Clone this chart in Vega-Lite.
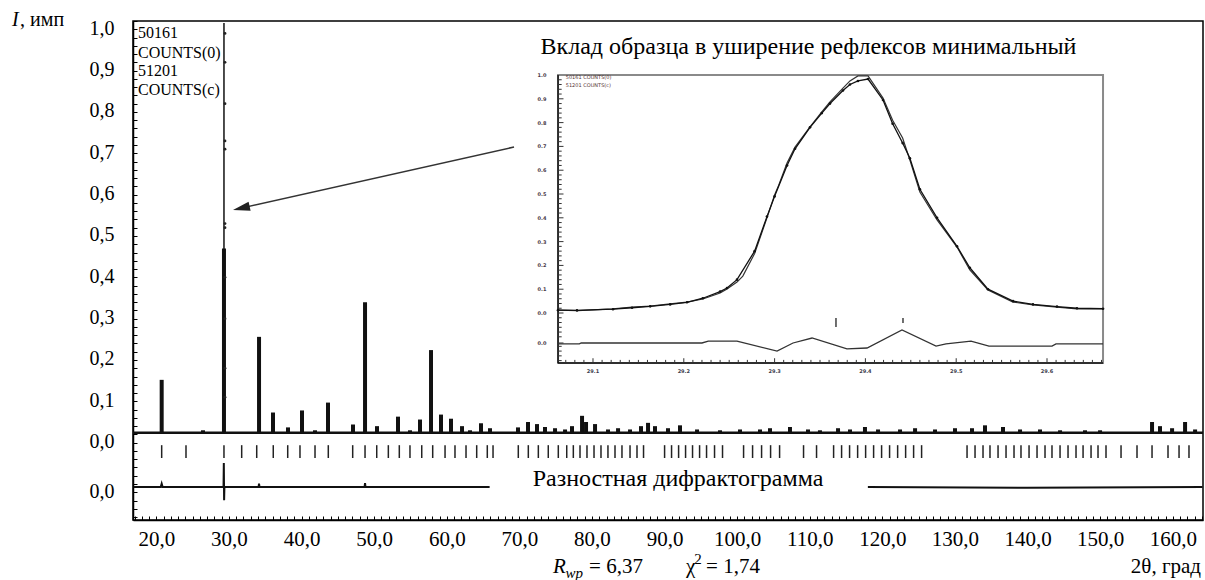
{
 "$schema": "https://vega.github.io/schema/vega-lite/v6.json",
 "width": 1070,
 "height": 499,
 "autosize": {"type": "none"},
 "padding": {"left": 133, "top": 21, "right": 2, "bottom": 60},
 "background": "#ffffff",
 "config": {"view": {"stroke": "#000000", "strokeWidth": 1.5}, "font": "Liberation Serif"},
 "datasets": {
  "base": [{"x": 16.78, "x2": 164.16, "y": 0.004}],
  "peaks": [
   {"x": 20.73, "y": 0.132}, {"x": 26.42, "y": 0.01}, {"x": 29.31, "y": 0.45}, {"x": 34.14, "y": 0.236}, {"x": 36.06, "y": 0.053},
   {"x": 38.13, "y": 0.017}, {"x": 40.06, "y": 0.058}, {"x": 41.85, "y": 0.01}, {"x": 43.64, "y": 0.077}, {"x": 47.08, "y": 0.024},
   {"x": 48.74, "y": 0.32}, {"x": 50.39, "y": 0.02}, {"x": 53.28, "y": 0.043}, {"x": 54.93, "y": 0.01}, {"x": 56.31, "y": 0.036},
   {"x": 57.83, "y": 0.204}, {"x": 59.2, "y": 0.048}, {"x": 60.58, "y": 0.038}, {"x": 62.1, "y": 0.02}, {"x": 63.2, "y": 0.01},
   {"x": 64.71, "y": 0.027}, {"x": 65.95, "y": 0.015}, {"x": 69.81, "y": 0.017}, {"x": 71.19, "y": 0.03}, {"x": 72.43, "y": 0.025},
   {"x": 73.53, "y": 0.018}, {"x": 74.91, "y": 0.015}, {"x": 76.29, "y": 0.012}, {"x": 77.25, "y": 0.02}, {"x": 78.63, "y": 0.045},
   {"x": 79.18, "y": 0.03}, {"x": 80.42, "y": 0.025}, {"x": 82.21, "y": 0.012}, {"x": 83.59, "y": 0.015}, {"x": 85.24, "y": 0.012},
   {"x": 86.75, "y": 0.02}, {"x": 87.72, "y": 0.028}, {"x": 88.68, "y": 0.02}, {"x": 90.47, "y": 0.015}, {"x": 92.12, "y": 0.022},
   {"x": 94.47, "y": 0.012}, {"x": 97.63, "y": 0.01}, {"x": 100.39, "y": 0.012}, {"x": 103.14, "y": 0.012}, {"x": 104.52, "y": 0.015},
   {"x": 107.27, "y": 0.018}, {"x": 109.75, "y": 0.012}, {"x": 111.4, "y": 0.01}, {"x": 113.89, "y": 0.015}, {"x": 115.54, "y": 0.012},
   {"x": 117.6, "y": 0.018}, {"x": 119.4, "y": 0.012}, {"x": 122.43, "y": 0.012}, {"x": 124.5, "y": 0.015}, {"x": 127.25, "y": 0.012},
   {"x": 130.0, "y": 0.015}, {"x": 132.34, "y": 0.015}, {"x": 134.13, "y": 0.022}, {"x": 136.61, "y": 0.018}, {"x": 138.96, "y": 0.012},
   {"x": 141.71, "y": 0.012}, {"x": 144.47, "y": 0.01}, {"x": 147.91, "y": 0.01}, {"x": 149.98, "y": 0.01}, {"x": 157.14, "y": 0.03},
   {"x": 158.24, "y": 0.02}, {"x": 159.9, "y": 0.015}, {"x": 161.69, "y": 0.03}, {"x": 163.07, "y": 0.012}
  ],
  "mainpeak": [{"x": 29.31, "y": 0.995}],
  "dots": [
   {"x": 29.45, "y": 0.97}, {"x": 29.45, "y": 0.9}, {"x": 29.45, "y": 0.8}, {"x": 29.45, "y": 0.71}, {"x": 29.45, "y": 0.69},
   {"x": 29.45, "y": 0.51}, {"x": 29.45, "y": 0.5}, {"x": 29.45, "y": 0.38}, {"x": 29.45, "y": 0.28}, {"x": 29.45, "y": 0.16}, {"x": 29.45, "y": 0.09}
  ],
  "bragg": [
   {"x": 20.73, "y": -0.026, "y2": -0.057}, {"x": 24.08, "y": -0.026, "y2": -0.057}, {"x": 29.31, "y": -0.026, "y2": -0.057}, {"x": 31.75, "y": -0.026, "y2": -0.057},
   {"x": 33.82, "y": -0.026, "y2": -0.057}, {"x": 36.1, "y": -0.026, "y2": -0.057}, {"x": 38.09, "y": -0.026, "y2": -0.057}, {"x": 39.78, "y": -0.026, "y2": -0.057},
   {"x": 41.85, "y": -0.026, "y2": -0.057}, {"x": 43.68, "y": -0.026, "y2": -0.057}, {"x": 47.04, "y": -0.026, "y2": -0.057}, {"x": 48.74, "y": -0.026, "y2": -0.057},
   {"x": 50.35, "y": -0.026, "y2": -0.057}, {"x": 51.95, "y": -0.026, "y2": -0.057}, {"x": 53.46, "y": -0.026, "y2": -0.057}, {"x": 54.93, "y": -0.026, "y2": -0.057},
   {"x": 56.55, "y": -0.026, "y2": -0.057}, {"x": 58.06, "y": -0.026, "y2": -0.057}, {"x": 59.76, "y": -0.026, "y2": -0.057}, {"x": 61.13, "y": -0.026, "y2": -0.057},
   {"x": 62.65, "y": -0.026, "y2": -0.057}, {"x": 64.12, "y": -0.026, "y2": -0.057}, {"x": 65.58, "y": -0.026, "y2": -0.057}, {"x": 66.37, "y": -0.026, "y2": -0.057},
   {"x": 69.85, "y": -0.026, "y2": -0.057}, {"x": 71.23, "y": -0.026, "y2": -0.057}, {"x": 72.61, "y": -0.026, "y2": -0.057}, {"x": 73.98, "y": -0.026, "y2": -0.057},
   {"x": 75.36, "y": -0.026, "y2": -0.057}, {"x": 76.52, "y": -0.026, "y2": -0.057}, {"x": 77.43, "y": -0.026, "y2": -0.057}, {"x": 78.35, "y": -0.026, "y2": -0.057},
   {"x": 79.31, "y": -0.026, "y2": -0.057}, {"x": 80.28, "y": -0.026, "y2": -0.057}, {"x": 81.24, "y": -0.026, "y2": -0.057}, {"x": 82.2, "y": -0.026, "y2": -0.057},
   {"x": 83.17, "y": -0.026, "y2": -0.057}, {"x": 84.13, "y": -0.026, "y2": -0.057}, {"x": 85.24, "y": -0.026, "y2": -0.057}, {"x": 86.2, "y": -0.026, "y2": -0.057},
   {"x": 87.1, "y": -0.026, "y2": -0.057}, {"x": 90.0, "y": -0.026, "y2": -0.057}, {"x": 90.96, "y": -0.026, "y2": -0.057}, {"x": 91.93, "y": -0.026, "y2": -0.057},
   {"x": 92.89, "y": -0.026, "y2": -0.057}, {"x": 93.85, "y": -0.026, "y2": -0.057}, {"x": 94.82, "y": -0.026, "y2": -0.057}, {"x": 95.78, "y": -0.026, "y2": -0.057},
   {"x": 96.88, "y": -0.026, "y2": -0.057}, {"x": 97.98, "y": -0.026, "y2": -0.057}, {"x": 100.88, "y": -0.026, "y2": -0.057}, {"x": 102.12, "y": -0.026, "y2": -0.057},
   {"x": 103.36, "y": -0.026, "y2": -0.057}, {"x": 104.6, "y": -0.026, "y2": -0.057}, {"x": 105.84, "y": -0.026, "y2": -0.057}, {"x": 109.14, "y": -0.026, "y2": -0.057},
   {"x": 110.93, "y": -0.026, "y2": -0.057}, {"x": 113.28, "y": -0.026, "y2": -0.057}, {"x": 114.38, "y": -0.026, "y2": -0.057}, {"x": 115.48, "y": -0.026, "y2": -0.057},
   {"x": 116.59, "y": -0.026, "y2": -0.057}, {"x": 117.69, "y": -0.026, "y2": -0.057}, {"x": 118.79, "y": -0.026, "y2": -0.057}, {"x": 119.89, "y": -0.026, "y2": -0.057},
   {"x": 120.99, "y": -0.026, "y2": -0.057}, {"x": 122.1, "y": -0.026, "y2": -0.057}, {"x": 123.2, "y": -0.026, "y2": -0.057}, {"x": 124.3, "y": -0.026, "y2": -0.057},
   {"x": 125.4, "y": -0.026, "y2": -0.057}, {"x": 131.66, "y": -0.026, "y2": -0.057}, {"x": 132.76, "y": -0.026, "y2": -0.057}, {"x": 133.86, "y": -0.026, "y2": -0.057},
   {"x": 134.82, "y": -0.026, "y2": -0.057}, {"x": 135.93, "y": -0.026, "y2": -0.057}, {"x": 137.03, "y": -0.026, "y2": -0.057}, {"x": 138.13, "y": -0.026, "y2": -0.057},
   {"x": 139.09, "y": -0.026, "y2": -0.057}, {"x": 140.2, "y": -0.026, "y2": -0.057}, {"x": 141.3, "y": -0.026, "y2": -0.057}, {"x": 142.4, "y": -0.026, "y2": -0.057},
   {"x": 143.36, "y": -0.026, "y2": -0.057}, {"x": 144.47, "y": -0.026, "y2": -0.057}, {"x": 145.57, "y": -0.026, "y2": -0.057}, {"x": 146.67, "y": -0.026, "y2": -0.057},
   {"x": 147.64, "y": -0.026, "y2": -0.057}, {"x": 148.74, "y": -0.026, "y2": -0.057}, {"x": 149.7, "y": -0.026, "y2": -0.057}, {"x": 150.8, "y": -0.026, "y2": -0.057},
   {"x": 152.87, "y": -0.026, "y2": -0.057}, {"x": 155.07, "y": -0.026, "y2": -0.057}, {"x": 157.14, "y": -0.026, "y2": -0.057}, {"x": 159.34, "y": -0.026, "y2": -0.057},
   {"x": 160.86, "y": -0.026, "y2": -0.057}, {"x": 162.23, "y": -0.026, "y2": -0.057}
  ],
  "diff": [
   {"x": 16.9, "y": -0.127, "s": "a"}, {"x": 20.6, "y": -0.127, "s": "a"}, {"x": 20.73, "y": -0.119, "s": "a"}, {"x": 20.86, "y": -0.127, "s": "a"},
   {"x": 29.25, "y": -0.127, "s": "a"}, {"x": 29.29, "y": -0.069, "s": "a"}, {"x": 29.33, "y": -0.159, "s": "a"}, {"x": 29.37, "y": -0.127, "s": "a"},
   {"x": 34.08, "y": -0.127, "s": "a"}, {"x": 34.14, "y": -0.119, "s": "a"}, {"x": 34.2, "y": -0.127, "s": "a"},
   {"x": 48.68, "y": -0.127, "s": "a"}, {"x": 48.74, "y": -0.118, "s": "a"}, {"x": 48.8, "y": -0.127, "s": "a"}, {"x": 65.9, "y": -0.127, "s": "a"},
   {"x": 118.0, "y": -0.127, "s": "b"}, {"x": 140.0, "y": -0.129, "s": "b"}, {"x": 164.1, "y": -0.127, "s": "b"}
  ],
  "arrow": [{"x": 69.26, "y": 0.6952}, {"x": 31.697, "y": 0.5474}],
  "arrowhead": [{"x": 31.697, "y": 0.5474}],
  "legendtxt": [
   {"x": 17.47, "y": 0.971, "t": "50161"}, {"x": 17.47, "y": 0.923, "t": "COUNTS(0)"},
   {"x": 17.47, "y": 0.879, "t": "51201"}, {"x": 17.47, "y": 0.833, "t": "COUNTS(c)"}
  ],
  "ititle": [{"x": 0.11, "y": 1.0024, "t": "I"}],
  "ytitle": [{"x": 1.22, "y": 1.0024, "t": ", имп"}],
  "bigtxt": [
   {"x": 109.82, "y": 0.937, "t": "Вклад образца в уширение рефлексов минимальный"},
   {"x": 91.85, "y": -0.108, "t": "Разностная дифрактограмма"}
  ],
  "rtxt": [{"x": 74.63, "y": -0.321, "t": "R"}],
  "wptxt": [{"x": 76.35, "y": -0.334, "t": "wp"}],
  "normtxt": [
   {"x": 79.6, "y": -0.321, "t": "= 6,37"}, {"x": 92.95, "y": -0.321, "t": "χ"}, {"x": 95.71, "y": -0.321, "t": "= 1,74"}
  ],
  "suptxt": [{"x": 94.1, "y": -0.302, "t": "2"}],
  "xtitle": [{"x": 163.89, "y": -0.321, "t": "2θ, град"}],
  "iframe": [{"x": 29.0615, "x2": 29.6617, "y": -0.21, "y2": 1.0}],
  "ileft": [{"x": 29.0615, "y": -0.21, "y2": 1.0}],
  "ibottom": [{"x": 29.0615, "x2": 29.6617, "y": -0.21}],
  "iyt": [
   {"x": 29.0615, "x2": 29.0655, "y": -0.2}, {"x": 29.0615, "x2": 29.0655, "y": -0.18}, {"x": 29.0615, "x2": 29.0655, "y": -0.16}, {"x": 29.0615, "x2": 29.0655, "y": -0.14},
   {"x": 29.0615, "x2": 29.0675, "y": -0.126}, {"x": 29.0615, "x2": 29.0655, "y": -0.1}, {"x": 29.0615, "x2": 29.0655, "y": -0.08}, {"x": 29.0615, "x2": 29.0655, "y": -0.06},
   {"x": 29.0615, "x2": 29.0655, "y": -0.04}, {"x": 29.0615, "x2": 29.0655, "y": -0.02}, {"x": 29.0615, "x2": 29.0675, "y": 0}, {"x": 29.0615, "x2": 29.0655, "y": 0.02},
   {"x": 29.0615, "x2": 29.0655, "y": 0.04}, {"x": 29.0615, "x2": 29.0655, "y": 0.06}, {"x": 29.0615, "x2": 29.0655, "y": 0.08}, {"x": 29.0615, "x2": 29.0675, "y": 0.1},
   {"x": 29.0615, "x2": 29.0655, "y": 0.12}, {"x": 29.0615, "x2": 29.0655, "y": 0.14}, {"x": 29.0615, "x2": 29.0655, "y": 0.16}, {"x": 29.0615, "x2": 29.0655, "y": 0.18},
   {"x": 29.0615, "x2": 29.0675, "y": 0.2}, {"x": 29.0615, "x2": 29.0655, "y": 0.22}, {"x": 29.0615, "x2": 29.0655, "y": 0.24}, {"x": 29.0615, "x2": 29.0655, "y": 0.26},
   {"x": 29.0615, "x2": 29.0655, "y": 0.28}, {"x": 29.0615, "x2": 29.0675, "y": 0.3}, {"x": 29.0615, "x2": 29.0655, "y": 0.32}, {"x": 29.0615, "x2": 29.0655, "y": 0.34},
   {"x": 29.0615, "x2": 29.0655, "y": 0.36}, {"x": 29.0615, "x2": 29.0655, "y": 0.38}, {"x": 29.0615, "x2": 29.0675, "y": 0.4}, {"x": 29.0615, "x2": 29.0655, "y": 0.42},
   {"x": 29.0615, "x2": 29.0655, "y": 0.44}, {"x": 29.0615, "x2": 29.0655, "y": 0.46}, {"x": 29.0615, "x2": 29.0655, "y": 0.48}, {"x": 29.0615, "x2": 29.0675, "y": 0.5},
   {"x": 29.0615, "x2": 29.0655, "y": 0.52}, {"x": 29.0615, "x2": 29.0655, "y": 0.54}, {"x": 29.0615, "x2": 29.0655, "y": 0.56}, {"x": 29.0615, "x2": 29.0655, "y": 0.58},
   {"x": 29.0615, "x2": 29.0675, "y": 0.6}, {"x": 29.0615, "x2": 29.0655, "y": 0.62}, {"x": 29.0615, "x2": 29.0655, "y": 0.64}, {"x": 29.0615, "x2": 29.0655, "y": 0.66},
   {"x": 29.0615, "x2": 29.0655, "y": 0.68}, {"x": 29.0615, "x2": 29.0675, "y": 0.7}, {"x": 29.0615, "x2": 29.0655, "y": 0.72}, {"x": 29.0615, "x2": 29.0655, "y": 0.74},
   {"x": 29.0615, "x2": 29.0655, "y": 0.76}, {"x": 29.0615, "x2": 29.0655, "y": 0.78}, {"x": 29.0615, "x2": 29.0675, "y": 0.8}, {"x": 29.0615, "x2": 29.0655, "y": 0.82},
   {"x": 29.0615, "x2": 29.0655, "y": 0.84}, {"x": 29.0615, "x2": 29.0655, "y": 0.86}, {"x": 29.0615, "x2": 29.0655, "y": 0.88}, {"x": 29.0615, "x2": 29.0675, "y": 0.9},
   {"x": 29.0615, "x2": 29.0655, "y": 0.92}, {"x": 29.0615, "x2": 29.0655, "y": 0.94}, {"x": 29.0615, "x2": 29.0655, "y": 0.96}, {"x": 29.0615, "x2": 29.0655, "y": 0.98}
  ],
  "ixt": [
   {"x": 29.07, "y": -0.21, "y2": -0.197}, {"x": 29.08, "y": -0.21, "y2": -0.197}, {"x": 29.09, "y": -0.21, "y2": -0.197}, {"x": 29.1, "y": -0.21, "y2": -0.19},
   {"x": 29.11, "y": -0.21, "y2": -0.197}, {"x": 29.12, "y": -0.21, "y2": -0.197}, {"x": 29.13, "y": -0.21, "y2": -0.197}, {"x": 29.14, "y": -0.21, "y2": -0.197},
   {"x": 29.15, "y": -0.21, "y2": -0.197}, {"x": 29.16, "y": -0.21, "y2": -0.197}, {"x": 29.17, "y": -0.21, "y2": -0.197}, {"x": 29.18, "y": -0.21, "y2": -0.197},
   {"x": 29.19, "y": -0.21, "y2": -0.197}, {"x": 29.2, "y": -0.21, "y2": -0.19}, {"x": 29.21, "y": -0.21, "y2": -0.197}, {"x": 29.22, "y": -0.21, "y2": -0.197},
   {"x": 29.23, "y": -0.21, "y2": -0.197}, {"x": 29.24, "y": -0.21, "y2": -0.197}, {"x": 29.25, "y": -0.21, "y2": -0.197}, {"x": 29.26, "y": -0.21, "y2": -0.197},
   {"x": 29.27, "y": -0.21, "y2": -0.197}, {"x": 29.28, "y": -0.21, "y2": -0.197}, {"x": 29.29, "y": -0.21, "y2": -0.197}, {"x": 29.3, "y": -0.21, "y2": -0.19},
   {"x": 29.31, "y": -0.21, "y2": -0.197}, {"x": 29.32, "y": -0.21, "y2": -0.197}, {"x": 29.33, "y": -0.21, "y2": -0.197}, {"x": 29.34, "y": -0.21, "y2": -0.197},
   {"x": 29.35, "y": -0.21, "y2": -0.197}, {"x": 29.36, "y": -0.21, "y2": -0.197}, {"x": 29.37, "y": -0.21, "y2": -0.197}, {"x": 29.38, "y": -0.21, "y2": -0.197},
   {"x": 29.39, "y": -0.21, "y2": -0.197}, {"x": 29.4, "y": -0.21, "y2": -0.19}, {"x": 29.41, "y": -0.21, "y2": -0.197}, {"x": 29.42, "y": -0.21, "y2": -0.197},
   {"x": 29.43, "y": -0.21, "y2": -0.197}, {"x": 29.44, "y": -0.21, "y2": -0.197}, {"x": 29.45, "y": -0.21, "y2": -0.197}, {"x": 29.46, "y": -0.21, "y2": -0.197},
   {"x": 29.47, "y": -0.21, "y2": -0.197}, {"x": 29.48, "y": -0.21, "y2": -0.197}, {"x": 29.49, "y": -0.21, "y2": -0.197}, {"x": 29.5, "y": -0.21, "y2": -0.19},
   {"x": 29.51, "y": -0.21, "y2": -0.197}, {"x": 29.52, "y": -0.21, "y2": -0.197}, {"x": 29.53, "y": -0.21, "y2": -0.197}, {"x": 29.54, "y": -0.21, "y2": -0.197},
   {"x": 29.55, "y": -0.21, "y2": -0.197}, {"x": 29.56, "y": -0.21, "y2": -0.197}, {"x": 29.57, "y": -0.21, "y2": -0.197}, {"x": 29.58, "y": -0.21, "y2": -0.197},
   {"x": 29.59, "y": -0.21, "y2": -0.197}, {"x": 29.6, "y": -0.21, "y2": -0.19}, {"x": 29.61, "y": -0.21, "y2": -0.197}, {"x": 29.62, "y": -0.21, "y2": -0.197},
   {"x": 29.63, "y": -0.21, "y2": -0.197}, {"x": 29.64, "y": -0.21, "y2": -0.197}, {"x": 29.65, "y": -0.21, "y2": -0.197}, {"x": 29.66, "y": -0.21, "y2": -0.197}
  ],
  "iyl": [
   {"x": 29.0438, "y": 1.0, "t": "1.0"}, {"x": 29.0438, "y": 0.9, "t": "0.9"}, {"x": 29.0438, "y": 0.8, "t": "0.8"}, {"x": 29.0438, "y": 0.7, "t": "0.7"},
   {"x": 29.0438, "y": 0.6, "t": "0.6"}, {"x": 29.0438, "y": 0.5, "t": "0.5"}, {"x": 29.0438, "y": 0.4, "t": "0.4"}, {"x": 29.0438, "y": 0.3, "t": "0.3"},
   {"x": 29.0438, "y": 0.2, "t": "0.2"}, {"x": 29.0438, "y": 0.1, "t": "0.1"}, {"x": 29.0438, "y": 0.0, "t": "0.0"}, {"x": 29.0438, "y": -0.126, "t": "0.0"}
  ],
  "ixl": [
   {"x": 29.1, "y": -0.245, "t": "29.1"}, {"x": 29.2, "y": -0.245, "t": "29.2"}, {"x": 29.3, "y": -0.245, "t": "29.3"},
   {"x": 29.4, "y": -0.245, "t": "29.4"}, {"x": 29.5, "y": -0.245, "t": "29.5"}, {"x": 29.6, "y": -0.245, "t": "29.6"}
  ],
  "ileg": [{"x": 29.07, "y": 0.99, "t": "50161 COUNTS(0)"}, {"x": 29.07, "y": 0.958, "t": "51201 COUNTS(c)"}],
  "icalc": [
   {"x": 29.0615, "y": 0.012}, {"x": 29.083, "y": 0.01}, {"x": 29.122, "y": 0.017}, {"x": 29.143, "y": 0.025}, {"x": 29.163, "y": 0.029},
   {"x": 29.185, "y": 0.038}, {"x": 29.2035, "y": 0.046}, {"x": 29.221, "y": 0.059}, {"x": 29.24, "y": 0.084}, {"x": 29.2476, "y": 0.101},
   {"x": 29.2586, "y": 0.13}, {"x": 29.265, "y": 0.155}, {"x": 29.278, "y": 0.25}, {"x": 29.2916, "y": 0.4}, {"x": 29.3, "y": 0.496},
   {"x": 29.3037, "y": 0.529}, {"x": 29.3137, "y": 0.63}, {"x": 29.3225, "y": 0.697}, {"x": 29.339, "y": 0.782}, {"x": 29.352, "y": 0.845},
   {"x": 29.361, "y": 0.887}, {"x": 29.3753, "y": 0.945}, {"x": 29.383, "y": 0.975}, {"x": 29.3918, "y": 0.996}, {"x": 29.4029, "y": 0.996},
   {"x": 29.4194, "y": 0.903}, {"x": 29.43, "y": 0.81}, {"x": 29.441, "y": 0.735}, {"x": 29.449, "y": 0.643}, {"x": 29.46, "y": 0.508},
   {"x": 29.4789, "y": 0.391}, {"x": 29.5009, "y": 0.277}, {"x": 29.515, "y": 0.181}, {"x": 29.535, "y": 0.097}, {"x": 29.5626, "y": 0.046},
   {"x": 29.5846, "y": 0.034}, {"x": 29.611, "y": 0.025}, {"x": 29.633, "y": 0.017}, {"x": 29.6617, "y": 0.017}
  ],
  "iobs": [
   {"x": 29.0615, "y": 0.012}, {"x": 29.0824, "y": 0.011}, {"x": 29.122, "y": 0.016}, {"x": 29.143, "y": 0.022}, {"x": 29.163, "y": 0.028},
   {"x": 29.185, "y": 0.036}, {"x": 29.2035, "y": 0.045}, {"x": 29.221, "y": 0.062}, {"x": 29.24, "y": 0.09}, {"x": 29.2476, "y": 0.105},
   {"x": 29.2586, "y": 0.14}, {"x": 29.278, "y": 0.26}, {"x": 29.2916, "y": 0.405}, {"x": 29.3, "y": 0.49}, {"x": 29.3137, "y": 0.62},
   {"x": 29.3225, "y": 0.69}, {"x": 29.339, "y": 0.78}, {"x": 29.352, "y": 0.84}, {"x": 29.361, "y": 0.88}, {"x": 29.3753, "y": 0.935},
   {"x": 29.383, "y": 0.96}, {"x": 29.3918, "y": 0.975}, {"x": 29.4029, "y": 0.983}, {"x": 29.4194, "y": 0.895}, {"x": 29.43, "y": 0.795},
   {"x": 29.441, "y": 0.714}, {"x": 29.449, "y": 0.65}, {"x": 29.46, "y": 0.52}, {"x": 29.4789, "y": 0.4}, {"x": 29.5009, "y": 0.28},
   {"x": 29.515, "y": 0.19}, {"x": 29.535, "y": 0.1}, {"x": 29.5626, "y": 0.05}, {"x": 29.5846, "y": 0.036}, {"x": 29.611, "y": 0.027},
   {"x": 29.633, "y": 0.02}, {"x": 29.6617, "y": 0.018}
  ],
  "idiff": [
   {"x": 29.0615, "y": -0.13}, {"x": 29.085, "y": -0.13}, {"x": 29.087, "y": -0.126}, {"x": 29.22, "y": -0.126}, {"x": 29.227, "y": -0.118},
   {"x": 29.2586, "y": -0.118}, {"x": 29.3027, "y": -0.16}, {"x": 29.3203, "y": -0.126}, {"x": 29.3412, "y": -0.105}, {"x": 29.3797, "y": -0.151},
   {"x": 29.4018, "y": -0.147}, {"x": 29.4403, "y": -0.071}, {"x": 29.4778, "y": -0.139}, {"x": 29.4888, "y": -0.13}, {"x": 29.5163, "y": -0.118},
   {"x": 29.5361, "y": -0.139}, {"x": 29.6055, "y": -0.139}, {"x": 29.6099, "y": -0.13}, {"x": 29.6617, "y": -0.13}
  ],
  "ibragg": [{"x": 29.3676, "y": -0.021, "y2": -0.059}, {"x": 29.4414, "y": -0.021, "y2": -0.042}]
 },
 "layer": [
  {
   "encoding": {
    "x": {"field": "x", "type": "quantitative",
     "scale": {"domain": [16.78, 164.16], "nice": false, "zero": false},
     "axis": {
      "title": null, "grid": false,
      "values": [17,18,19,20,21,22,23,24,25,26,27,28,29,30,31,32,33,34,35,36,37,38,39,40,41,42,43,44,45,46,47,48,49,50,51,52,53,54,55,56,57,58,59,60,61,62,63,64,65,66,67,68,69,70,71,72,73,74,75,76,77,78,79,80,81,82,83,84,85,86,87,88,89,90,91,92,93,94,95,96,97,98,99,100,101,102,103,104,105,106,107,108,109,110,111,112,113,114,115,116,117,118,119,120,121,122,123,124,125,126,127,128,129,130,131,132,133,134,135,136,137,138,139,140,141,142,143,144,145,146,147,148,149,150,151,152,153,154,155,156,157,158,159,160,161,162,163,164],
      "labelExpr": "datum.value % 10 == 0 ? replace(format(datum.value, '.1f'), '.', ',') : ''",
      "labelFont": "Liberation Serif", "labelFontSize": 21, "labelColor": "#000000",
      "labelOverlap": false, "labelFlush": false,
      "tickSize": -4, "tickColor": "#000000", "tickWidth": 1,
      "labelPadding": 12,
      "domainColor": "#000000", "domainWidth": 1.5
     }
    },
    "y": {"field": "y", "type": "quantitative",
     "scale": {"domain": [-0.207, 1.0], "nice": false, "zero": false},
     "axis": {
      "title": null, "grid": false,
      "values": [-0.2,-0.18,-0.16,-0.14,-0.12,-0.1,-0.08,-0.06,-0.04,-0.02,0,0.02,0.04,0.06,0.08,0.1,0.12,0.14,0.16,0.18,0.2,0.22,0.24,0.26,0.28,0.3,0.32,0.34,0.36,0.38,0.4,0.42,0.44,0.46,0.48,0.5,0.52,0.54,0.56,0.58,0.6,0.62,0.64,0.66,0.68,0.7,0.72,0.74,0.76,0.78,0.8,0.82,0.84,0.86,0.88,0.9,0.92,0.94,0.96,0.98,1.0],
      "labelExpr": "datum.value == -0.12 ? '0,0' : (datum.value >= 0 && abs(datum.value * 10 - round(datum.value * 10)) < 0.001 ? replace(format(datum.value, '.1f'), '.', ',') : '')",
      "labelFont": "Liberation Serif", "labelFontSize": 20, "labelColor": "#000000",
      "labelOverlap": false, "labelFlush": false, "labelOffset": 7,
      "tickSize": -4, "tickColor": "#000000", "tickWidth": 1,
      "labelPadding": 23,
      "domainColor": "#000000", "domainWidth": 1.5
     }
    }
   },
   "layer": [
    {"data": {"name": "base"}, "mark": {"type": "rule", "strokeWidth": 2.5, "color": "#111111"}, "encoding": {"x2": {"field": "x2"}}},
    {"data": {"name": "peaks"}, "mark": {"type": "rule", "strokeWidth": 4, "color": "#111111"}, "encoding": {"y2": {"datum": 0.004}}},
    {"data": {"name": "mainpeak"}, "mark": {"type": "rule", "strokeWidth": 1.5, "color": "#111111"}, "encoding": {"y2": {"datum": 0.004}}},
    {"data": {"name": "dots"}, "mark": {"type": "point", "filled": true, "size": 8, "color": "#222222", "opacity": 1}, "encoding": {}},
    {"data": {"name": "bragg"}, "mark": {"type": "rule", "strokeWidth": 1.5, "color": "#222222"}, "encoding": {"y2": {"field": "y2"}}},
    {"data": {"name": "diff"}, "mark": {"type": "line", "strokeWidth": 2, "color": "#111111"}, "encoding": {"detail": {"field": "s"}}},
    {"data": {"name": "arrow"}, "mark": {"type": "line", "strokeWidth": 1.5, "color": "#333333"}, "encoding": {}},
    {"data": {"name": "arrowhead"}, "mark": {"type": "point", "shape": "M -1 0 L 1 -0.55 L 1 0.55 Z", "size": 289, "angle": 347.4, "filled": true, "color": "#222222", "opacity": 1}, "encoding": {}},
    {"data": {"name": "legendtxt"}, "mark": {"type": "text", "font": "Liberation Serif", "fontSize": 16, "align": "left", "baseline": "middle", "color": "#000000"}, "encoding": {"text": {"field": "t"}}},
    {"data": {"name": "ititle"}, "mark": {"type": "text", "font": "Liberation Serif", "fontSize": 20, "fontStyle": "italic", "align": "left", "baseline": "middle", "color": "#000000"}, "encoding": {"text": {"field": "t"}}},
    {"data": {"name": "ytitle"}, "mark": {"type": "text", "font": "Liberation Serif", "fontSize": 20, "align": "left", "baseline": "middle", "color": "#000000"}, "encoding": {"text": {"field": "t"}}},
    {"data": {"name": "bigtxt"}, "mark": {"type": "text", "font": "Liberation Serif", "fontSize": 24, "align": "center", "baseline": "middle", "color": "#000000"}, "encoding": {"text": {"field": "t"}}},
    {"data": {"name": "rtxt"}, "mark": {"type": "text", "font": "Liberation Serif", "fontSize": 21, "fontStyle": "italic", "align": "left", "baseline": "middle", "color": "#000000"}, "encoding": {"text": {"field": "t"}}},
    {"data": {"name": "wptxt"}, "mark": {"type": "text", "font": "Liberation Serif", "fontSize": 15, "fontStyle": "italic", "align": "left", "baseline": "middle", "color": "#000000"}, "encoding": {"text": {"field": "t"}}},
    {"data": {"name": "normtxt"}, "mark": {"type": "text", "font": "Liberation Serif", "fontSize": 21, "align": "left", "baseline": "middle", "color": "#000000"}, "encoding": {"text": {"field": "t"}}},
    {"data": {"name": "suptxt"}, "mark": {"type": "text", "font": "Liberation Serif", "fontSize": 15, "align": "left", "baseline": "middle", "color": "#000000"}, "encoding": {"text": {"field": "t"}}},
    {"data": {"name": "xtitle"}, "mark": {"type": "text", "font": "Liberation Serif", "fontSize": 21, "align": "right", "baseline": "middle", "color": "#000000"}, "encoding": {"text": {"field": "t"}}}
   ]
  },
  {
   "encoding": {
    "x": {"field": "x", "type": "quantitative", "scale": {"domain": [28.5934, 29.7718], "nice": false, "zero": false}, "axis": null},
    "y": {"field": "y", "type": "quantitative", "scale": {"domain": [-0.8697, 1.2269], "nice": false, "zero": false}, "axis": null}
   },
   "layer": [
    {"data": {"name": "iframe"}, "mark": {"type": "rect", "fill": "#ffffff", "stroke": "#8a8a8a", "strokeWidth": 2}, "encoding": {"x2": {"field": "x2"}, "y2": {"field": "y2"}}},
    {"data": {"name": "ileft"}, "mark": {"type": "rule", "strokeWidth": 1.5, "color": "#111111"}, "encoding": {"y2": {"field": "y2"}}},
    {"data": {"name": "ibottom"}, "mark": {"type": "rule", "strokeWidth": 1.5, "color": "#111111"}, "encoding": {"x2": {"field": "x2"}}},
    {"data": {"name": "iyt"}, "mark": {"type": "rule", "strokeWidth": 1, "color": "#333333"}, "encoding": {"x2": {"field": "x2"}}},
    {"data": {"name": "ixt"}, "mark": {"type": "rule", "strokeWidth": 1, "color": "#333333"}, "encoding": {"y2": {"field": "y2"}}},
    {"data": {"name": "iyl"}, "mark": {"type": "text", "font": "DejaVu Sans", "fontSize": 5, "fontWeight": "bold", "align": "center", "baseline": "middle", "color": "#4a3a48"}, "encoding": {"text": {"field": "t"}}},
    {"data": {"name": "ixl"}, "mark": {"type": "text", "font": "DejaVu Sans", "fontSize": 5, "fontWeight": "bold", "align": "center", "baseline": "middle", "color": "#3a3a4a"}, "encoding": {"text": {"field": "t"}}},
    {"data": {"name": "ileg"}, "mark": {"type": "text", "font": "DejaVu Sans", "fontSize": 5, "align": "left", "baseline": "middle", "color": "#553333"}, "encoding": {"text": {"field": "t"}}},
    {"data": {"name": "icalc"}, "mark": {"type": "line", "strokeWidth": 1.2, "color": "#333333"}, "encoding": {}},
    {"data": {"name": "iobs"}, "mark": {"type": "line", "strokeWidth": 1.3, "color": "#111111", "point": {"filled": true, "size": 7, "color": "#111111"}}, "encoding": {}},
    {"data": {"name": "ibragg"}, "mark": {"type": "rule", "strokeWidth": 1.3, "color": "#222222"}, "encoding": {"y2": {"field": "y2"}}},
    {"data": {"name": "idiff"}, "mark": {"type": "line", "strokeWidth": 1.3, "color": "#333333"}, "encoding": {}}
   ]
  }
 ],
 "resolve": {"scale": {"x": "independent", "y": "independent"}}
}
